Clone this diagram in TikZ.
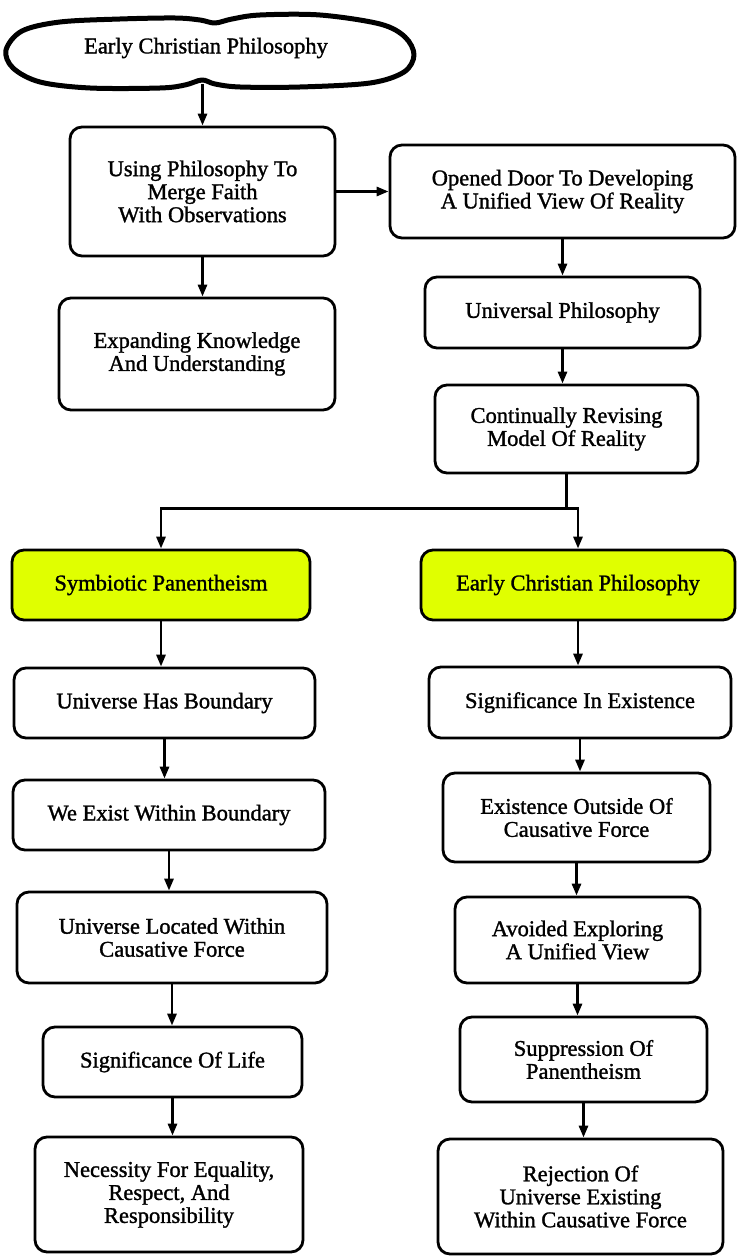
\documentclass[tikz,border=0pt]{standalone}
\usepackage{fontspec}
\newfontfamily\dfont[RawFeature={embolden=1.3}]{Liberation Serif}
\usetikzlibrary{arrows.meta,calc}
\definecolor{hilite}{HTML}{E0FF00}
\begin{document}
\begin{tikzpicture}[x=1pt,y=-1pt,
  box/.style={draw=black,line width=2.8pt,rounded corners=12pt,fill=white,
    align=center,inner sep=0pt,font=\dfont\fontsize{22.5}{23}\selectfont},
  hbox/.style={box,fill=hilite},
  arr/.style={line width=2.8pt,-{Triangle[length=12pt,width=9pt]}},
  cloudline/.style={line width=5pt,line join=round}]
\useasboundingbox (0,0) rectangle (737,1257);
% cloud
\draw[cloudline] plot[smooth cycle,tension=0.55] coordinates {
  (6,50) (22,31) (60,22) (120,19) (175,18) (200,20) (215,23) (232,19) (260,15) (320,15)
  (380,24) (405,37) (414,55) (404,72) (370,83) (300,87) (240,87)
  (215,84) (202,80) (185,85) (160,88) (90,88) (40,82) (13,68)};
\node[font=\dfont\fontsize{22.5}{23}\selectfont] (cloud) at (206,48) {Early Christian Philosophy};
\coordinate (cloudbot) at (202.5,84);
% top boxes
\node[box,minimum width=265pt,minimum height=129pt] (A) at (202.5,191.5) {Using Philosophy To\\Merge Faith\\With Observations};
\node[box,minimum width=276pt,minimum height=112pt] (B) at (197,354) {Expanding Knowledge\\And Understanding};
\node[box,minimum width=345pt,minimum height=93pt] (C) at (562.5,191.5) {Opened Door To Developing\\A Unified View Of Reality};
\node[box,minimum width=275pt,minimum height=71pt] (D) at (562.5,312.5) {Universal Philosophy};
\node[box,minimum width=263pt,minimum height=88pt] (E) at (566.5,429) {Continually Revising\\Model Of Reality};
% highlighted
\node[hbox,minimum width=298pt,minimum height=70pt] (F) at (161,585) {Symbiotic Panentheism};
\node[hbox,minimum width=314pt,minimum height=70pt] (G) at (578,585) {Early Christian Philosophy};
% left column
\node[box,minimum width=301pt,minimum height=70pt] (L1) at (164.5,703) {Universe Has Boundary};
\node[box,minimum width=312pt,minimum height=70pt] (L2) at (169,815) {We Exist Within Boundary};
\node[box,minimum width=310pt,minimum height=91pt] (L3) at (172,937.5) {Universe Located Within\\Causative Force};
\node[box,minimum width=259pt,minimum height=70pt] (L4) at (172.5,1062) {Significance Of Life};
\node[box,minimum width=268pt,minimum height=115pt] (L5) at (169,1194.5) {Necessity For Equality,\\Respect, And\\Responsibility};
% right column
\node[box,minimum width=302pt,minimum height=71pt] (R1) at (580,702.5) {Significance In Existence};
\node[box,minimum width=267pt,minimum height=89pt] (R2) at (576.5,817.5) {Existence Outside Of\\Causative Force};
\node[box,minimum width=245pt,minimum height=86pt] (R3) at (577.5,940) {Avoided Exploring\\A Unified View};
\node[box,minimum width=247pt,minimum height=85pt] (R4) at (583.5,1059.5) {Suppression Of\\Panentheism};
\node[box,minimum width=285pt,minimum height=115pt] (R5) at (580.5,1196.5) {Rejection Of\\Universe Existing\\Within Causative Force};
% connectors
\draw[arr] (cloudbot) -- (A.north);
\draw[arr] (A.east) -- (C.west);
\draw[arr] (A.south) -- (A.south |- B.north);
\draw[arr] (C.south) -- (C.south |- D.north);
\draw[arr] (D.south) -- (D.south |- E.north);
\coordinate (split) at ($(E.south)+(0,34)$);
\draw[arr] (E.south) -- (split) -| (F.north);
\draw[arr] (split) -| (G.north);
\draw[arr] (F.south) -- (F.south |- L1.north);
\draw[arr] (L1.south) -- (L1.south |- L2.north);
\draw[arr] (L2.south) -- (L2.south |- L3.north);
\draw[arr] (L3.south) -- (L3.south |- L4.north);
\draw[arr] (L4.south) -- (L4.south |- L5.north);
\draw[arr] (G.south) -- (G.south |- R1.north);
\draw[arr] (R1.south) -- (R1.south |- R2.north);
\draw[arr] (R2.south) -- (R2.south |- R3.north);
\draw[arr] (R3.south) -- (R3.south |- R4.north);
\draw[arr] (R4.south) -- (R4.south |- R5.north);
\end{tikzpicture}
\end{document}
